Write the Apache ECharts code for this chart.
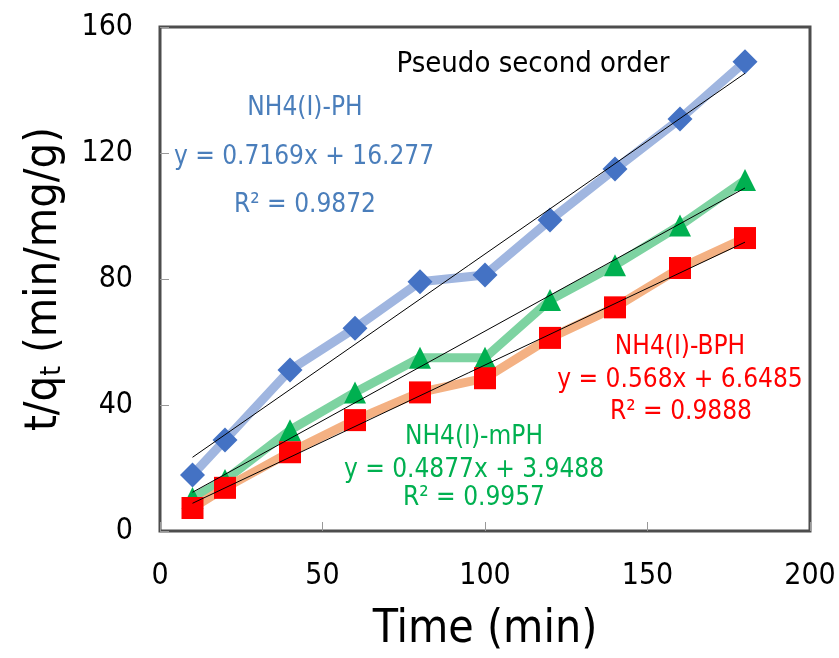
<!DOCTYPE html>
<html>
<head>
<meta charset="utf-8">
<script src="https://cdn.jsdelivr.net/npm/echarts@6/dist/echarts.min.js"></script>
<style>
html, body { margin: 0; padding: 0; background: #fff; }
#chart { width: 839px; height: 658px; }
</style>
</head>
<body>
<div id="chart"></div>
<script>
var FONT = '"DejaVu Sans Condensed", "DejaVu Sans", sans-serif';

// time (min)
var times = [10, 20, 40, 60, 80, 100, 120, 140, 160, 180];
// t/qt values
var phValues = [17.8, 28.9, 51.1, 64.4, 79.1, 81.3, 98.7, 114.9, 130.8, 149];
var mphValues = [10.5, 16.2, 32, 44, 55, 55, 73.3, 84.4, 97, 111.4];
var bphValues = [7.3, 13.7, 25, 35.2, 44, 48.5, 61.3, 71, 83.5, 93];
// trend line end points
var trendX = [10, 180];
var phTrend = [23.4, 145.3];
var mphTrend = [12.3, 108.9];
var bphTrend = [8.8, 91.7];

var xTicks = [0, 50, 100, 150, 200];
var yTicks = [0, 40, 80, 120, 160];

function pairs(xs, ys) {
	var out = [];
	for (var i = 0; i < xs.length; i++) {
		out.push([xs[i], ys[i]]);
	}
	return out;
}

var getOption = function() {
	var option = {
		backgroundColor: '#fff',
		animation: false,
		grid: {
			left: 160,
			right: 29,
			top: 27,
			bottom: 127,
			show: true,
			borderColor: '#4d4d4d',
			borderWidth: 3
		},
		xAxis: {
			type: 'value',
			min: xTicks[0],
			max: xTicks[xTicks.length - 1],
			interval: 50,
			axisLine: { show: false },
			axisTick: { show: true, inside: true, length: 9, lineStyle: { color: '#999' } },
			splitLine: { show: false },
			axisLabel: { fontSize: 30, color: '#000', margin: 30, fontFamily: FONT },
			name: 'Time (min)',
			nameLocation: 'middle',
			nameGap: 76,
			nameTextStyle: { fontSize: 46, color: '#000', fontFamily: FONT }
		},
		yAxis: {
			type: 'value',
			min: yTicks[0],
			max: yTicks[yTicks.length - 1],
			interval: 40,
			axisLine: { show: false },
			axisTick: { show: true, inside: true, length: 9, lineStyle: { color: '#999' } },
			splitLine: { show: false },
			axisLabel: { fontSize: 30, color: '#000', margin: 27, fontFamily: FONT },
			name: '{n|t/q}{s|t}{n| (min/mg/g)}',
			nameLocation: 'middle',
			nameRotate: 90,
			nameGap: 93,
			nameTextStyle: {
				rich: {
					n: { fontSize: 45, color: '#000', fontFamily: FONT },
					s: { fontSize: 28, color: '#000', fontFamily: FONT, verticalAlign: 'bottom' }
				}
			}
		},
		series: [{
			name: 'NH4(I)-PH',
			type: 'line',
			data: pairs(times, phValues),
			symbol: 'diamond',
			symbolSize: 25,
			itemStyle: { color: '#4472c4' },
			lineStyle: { color: '#a0b6e0', width: 9 },
			z: 2
		}, {
			name: 'NH4(I)-mPH',
			type: 'line',
			data: pairs(times, mphValues),
			symbol: 'triangle',
			symbolSize: 22,
			itemStyle: { color: '#00b050' },
			lineStyle: { color: '#7dd3a1', width: 9 },
			z: 2
		}, {
			name: 'NH4(I)-BPH',
			type: 'line',
			data: pairs(times, bphValues),
			symbol: 'rect',
			symbolSize: 22,
			itemStyle: { color: '#ff0000' },
			lineStyle: { color: '#f4b183', width: 9 },
			z: 2
		}, {
			type: 'line',
			data: pairs(trendX, phTrend),
			symbol: 'none',
			lineStyle: { color: '#000', width: 1 },
			z: 4
		}, {
			type: 'line',
			data: pairs(trendX, mphTrend),
			symbol: 'none',
			lineStyle: { color: '#000', width: 1 },
			z: 4
		}, {
			type: 'line',
			data: pairs(trendX, bphTrend),
			symbol: 'none',
			lineStyle: { color: '#000', width: 1 },
			z: 4
		}],
		graphic: [
			{ type: 'text', x: 533, y: 64, style: { text: 'Pseudo second order', fontSize: 29, fill: '#000', fontFamily: FONT, align: 'center', verticalAlign: 'middle' } },
			{ type: 'text', x: 305, y: 108, style: { text: 'NH4(I)-PH', fontSize: 26, fill: '#4a7ebb', fontFamily: FONT, align: 'center', verticalAlign: 'middle' } },
			{ type: 'text', x: 304, y: 157, style: { text: 'y = 0.7169x + 16.277', fontSize: 26, fill: '#4a7ebb', fontFamily: FONT, align: 'center', verticalAlign: 'middle' } },
			{ type: 'text', x: 305, y: 205, style: { text: 'R² = 0.9872', fontSize: 26, fill: '#4a7ebb', fontFamily: FONT, align: 'center', verticalAlign: 'middle' } },
			{ type: 'text', x: 474, y: 437, style: { text: 'NH4(I)-mPH', fontSize: 26, fill: '#00b050', fontFamily: FONT, align: 'center', verticalAlign: 'middle' } },
			{ type: 'text', x: 474, y: 470, style: { text: 'y = 0.4877x + 3.9488', fontSize: 26, fill: '#00b050', fontFamily: FONT, align: 'center', verticalAlign: 'middle' } },
			{ type: 'text', x: 474, y: 498, style: { text: 'R² = 0.9957', fontSize: 26, fill: '#00b050', fontFamily: FONT, align: 'center', verticalAlign: 'middle' } },
			{ type: 'text', x: 680, y: 347, style: { text: 'NH4(I)-BPH', fontSize: 26, fill: '#ff0000', fontFamily: FONT, align: 'center', verticalAlign: 'middle' } },
			{ type: 'text', x: 680, y: 380, style: { text: 'y = 0.568x + 6.6485', fontSize: 26, fill: '#ff0000', fontFamily: FONT, align: 'center', verticalAlign: 'middle' } },
			{ type: 'text', x: 681, y: 412, style: { text: 'R² = 0.9888', fontSize: 26, fill: '#ff0000', fontFamily: FONT, align: 'center', verticalAlign: 'middle' } }
		]
	};
	return option;
};

var chart = echarts.init(document.getElementById('chart'), null, { renderer: 'canvas' });
chart.setOption(getOption());
</script>
</body>
</html>
